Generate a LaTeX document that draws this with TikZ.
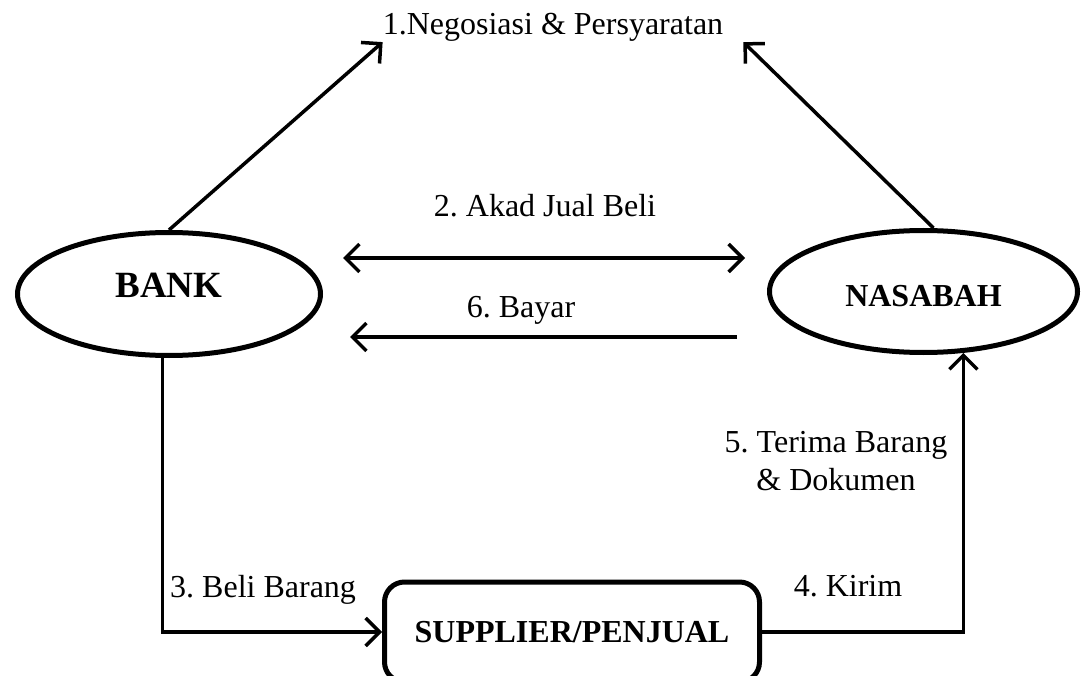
\documentclass[tikz,border=0pt]{standalone}
\usepackage{fontspec}
\setmainfont{Liberation Serif}
\usetikzlibrary{shapes.geometric,arrows.meta}
\frenchspacing

\tikzset{
    party/.style={draw, ellipse, line width=5pt, inner sep=0pt},
    seller/.style={draw, rectangle, rounded corners=20pt, line width=5pt, inner sep=0pt, minimum width=375pt, minimum height=100pt},
    flow/.style={line width=3.5pt, -{Straight Barb[length=14pt,width=28pt]}},
    twoflow/.style={line width=3.5pt, {Straight Barb[length=14pt,width=28pt]}-{Straight Barb[length=14pt,width=28pt]}},
    tag/.style={font=\fontsize{32}{38}\selectfont, inner sep=0pt}
}

\begin{document}
\begin{tikzpicture}[x=1pt, y=-1pt]

    \useasboundingbox (0,0) rectangle (1081,676);
    \clip (0,0) rectangle (1081,676);

    \node[party, minimum width=303pt, minimum height=123pt, font=\fontsize{37}{44}\selectfont\bfseries] (bank) at (169,294) {\raisebox{-4pt}[0pt][0pt]{BANK}};
    \node[party, minimum width=308pt, minimum height=122pt, font=\fontsize{32}{38}\selectfont\bfseries] (nasabah) at (923.5,291.5) {\raisebox{-15pt}[0pt][0pt]{NASABAH}};
    \node[seller, font=\fontsize{32}{38}\selectfont\bfseries] (supplier) at (572,632) {SUPPLIER/PENJUAL};

    \node[tag, anchor=base] (nego) at (553,35) {1.Negosiasi \& Persyaratan};
    \draw[flow] (bank.north) -- (nego.south west);
    \draw[flow] ([xshift=10pt]nasabah.north) -- ([xshift=20pt]nego.south east);

    \coordinate (akadL) at (343,258);   \coordinate (akadR) at (745,258);
    \node[tag, anchor=base] (akad) at (545,217) {2. Akad Jual Beli};
    \draw[twoflow] (akadL) -- (akadR);

    \coordinate (bayarR) at (737,337);  \coordinate (bayarL) at (350,337);
    \node[tag, anchor=base] (bayar) at (521,317) {6. Bayar};
    \draw[flow] (bayarR) -- (bayarL);

    \node[tag, anchor=base west] (beli) at (170,597) {3. Beli Barang};
    \draw[flow] (bank.-96) |- (supplier.west);

    \node[tag, anchor=base] (kirim) at (848,596) {4. Kirim};
    \node[tag, align=center] (terima) at (836,461) {5. Terima Barang\\\& Dokumen};
    \draw[flow] (supplier.east) -| (nasabah.-57);

\end{tikzpicture}
\end{document}
